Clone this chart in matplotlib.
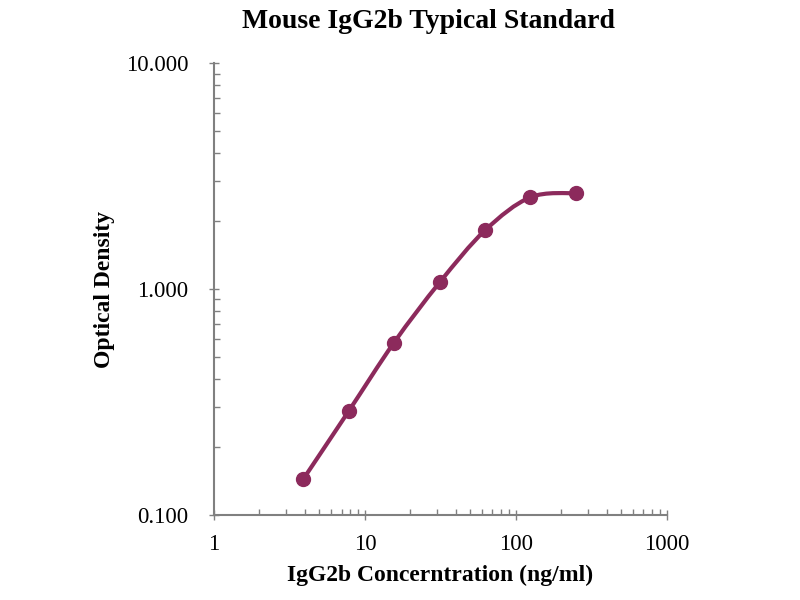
import numpy as np
import matplotlib.pyplot as plt
from matplotlib.path import Path
from matplotlib.patches import PathPatch
from matplotlib.ticker import FixedLocator, FixedFormatter, LogLocator, NullFormatter

# standard curve points
concentration = [3.9, 7.8, 15.6, 31.25, 62.5, 125, 250]
optical_density = [0.144, 0.288, 0.58, 1.07, 1.82, 2.55, 2.66]

x_ticks = [1, 10, 100, 1000]
x_tick_labels = ['1', '10', '100', '1000']
y_ticks = [0.1, 1, 10]
y_tick_labels = ['0.100', '1.000', '10.000']

plt.rcParams['font.family'] = ['Liberation Serif', 'DejaVu Serif']

fig = plt.figure(figsize=(8, 6), dpi=100)
ax = fig.add_axes([0.2675, 0.1417, 0.566, 0.753])

col = '#8c2a5c'

# smoothed line (Catmull-Rom style bezier, built in log space like the log axes)
lx = np.log10(concentration)
ly = np.log10(optical_density)
verts = [(concentration[0], optical_density[0])]
codes = [Path.MOVETO]
n = len(lx)
for i in range(n - 1):
    p0 = i - 1 if i > 0 else i
    p3 = i + 2 if i + 2 < n else i + 1
    c1x = lx[i] + (lx[i + 1] - lx[p0]) / 6
    c1y = ly[i] + (ly[i + 1] - ly[p0]) / 6
    c2x = lx[i + 1] - (lx[p3] - lx[i]) / 6
    c2y = ly[i + 1] - (ly[p3] - ly[i]) / 6
    verts += [(10 ** c1x, 10 ** c1y), (10 ** c2x, 10 ** c2y),
              (concentration[i + 1], optical_density[i + 1])]
    codes += [Path.CURVE4] * 3
ax.add_patch(PathPatch(Path(verts, codes), facecolor='none', edgecolor=col,
                       linewidth=3, capstyle='round'))

ax.plot(concentration, optical_density, linestyle='none',
        marker='o', markersize=10, markerfacecolor=col, markeredgecolor=col)

ax.set_xscale('log')
ax.set_yscale('log')
ax.set_xlim(1, 1000)
ax.set_ylim(0.1, 10)

ax.xaxis.set_major_locator(FixedLocator(x_ticks))
ax.xaxis.set_major_formatter(FixedFormatter(x_tick_labels))
ax.yaxis.set_major_locator(FixedLocator(y_ticks))
ax.yaxis.set_major_formatter(FixedFormatter(y_tick_labels))
ax.xaxis.set_minor_locator(LogLocator(base=10, subs=np.arange(2, 10)))
ax.yaxis.set_minor_locator(LogLocator(base=10, subs=np.arange(2, 10)))
ax.xaxis.set_minor_formatter(NullFormatter())
ax.yaxis.set_minor_formatter(NullFormatter())

for s in ['top', 'right']:
    ax.spines[s].set_visible(False)
for s in ['left', 'bottom']:
    ax.spines[s].set_color('#808080')
    ax.spines[s].set_linewidth(1.5)

ax.tick_params(axis='x', which='major', direction='inout', length=7, width=1,
               color='#808080', labelsize=16.5, pad=10)
ax.tick_params(axis='y', which='major', direction='inout', length=7, width=1,
               color='#808080', labelsize=16.5, pad=15)
ax.tick_params(which='minor', direction='in', length=4, width=1, color='#808080')

ax.set_xlabel('IgG2b Concerntration (ng/ml)', fontsize=17, fontweight='bold', labelpad=7)
ax.set_ylabel('Optical Density', fontsize=17, fontweight='bold', labelpad=8)
fig.text(0.536, 0.965, 'Mouse IgG2b Typical Standard', fontsize=20, fontweight='bold',
         ha='center', va='center')

fig.savefig('out.png', dpi=100)
